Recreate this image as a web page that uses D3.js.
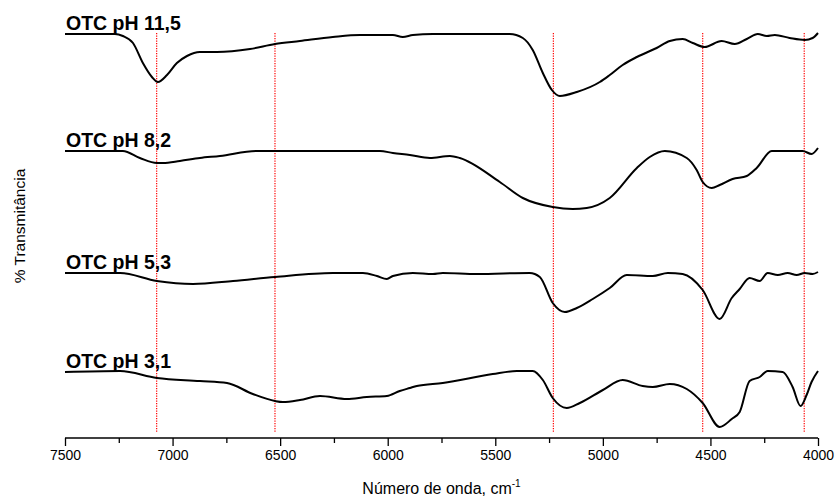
<!DOCTYPE html>
<html>
<head>
<meta charset="utf-8">
<script src="https://cdn.jsdelivr.net/npm/d3@7/dist/d3.min.js"></script>
<style>
  html, body { margin: 0; padding: 0; background: #fff; }
  svg { display: block; }
  text { font-family: "Liberation Sans", Arial, Helvetica, sans-serif; }
</style>
</head>
<body>
<svg id="chart" width="837" height="500"></svg>
<script>
// ---- data (wavenumber in cm-1, transmittance in arbitrary offset units) ----
const seriesNames = ["OTC pH 11,5", "OTC pH 8,2", "OTC pH 5,3", "OTC pH 3,1"];

const wnPH115 = [7500,7268,7231,7184,7138,7096,7068,7026,6980,6933,6873,6794,6640,6524,6408,6255,6129,5976,5930,5883,5790,5572,5433,5372,5326,5279,5237,5200,5121,5014,4968,4908,4842,4750,4689,4629,4582,4527,4448,4387,4331,4280,4238,4201,4132,4062,4025,4000];
const tPH115  = [404,404,402,395,375,361,356,363,375,382,386,386,389,394,397,401,403,403,401,403,404,404,404,400,388,365,348,342,346,356,363,373,381,390,397,399,395,391,397,394,399,404,402,403,400,398,400,405];

const wnPH82 = [7500,7231,7152,7073,7045,6966,6873,6780,6608,6036,5976,5897,5804,5711,5665,5479,5372,5233,5140,5075,4968,4842,4782,4712,4610,4564,4536,4494,4457,4397,4331,4285,4215,4071,4030,4000];
const tPH82  = [287,287,280,275,275,277,280,282,287,287,285,283,280,282,280,256,240,231,229,230,240,270,281,287,280,268,256,250,253,259,262,270,287,287,284,290];

const wnPH53 = [7500,7244,7073,6905,6719,6524,6255,6115,6050,6004,5976,5883,5790,5744,5586,5340,5293,5233,5177,5121,5047,4968,4889,4768,4698,4629,4536,4457,4401,4364,4318,4271,4234,4187,4141,4099,4062,4025,4000];
const tPH53  = [165,165,157,154,157,161,165,165,162,159,162,165,164,165,164,165,161,135,126,130,139,150,163,162,165,164,148,119,140,149,160,157,165,163,165,163,165,164,166];

const wnPH31 = [7500,7244,7073,6873,6747,6627,6524,6487,6408,6315,6190,6097,6004,5944,5897,5865,5744,5512,5400,5326,5279,5233,5168,5107,5000,4908,4815,4768,4689,4610,4536,4457,4401,4364,4318,4271,4234,4164,4118,4081,4053,4030,4000];
const tPH31  = [66,67,60,57,55,44,37,36,38,42,39,41,42,47,50,52,55,64,67,67,58,40,30,35,48,58,52,51,54,49,35,11,19,26,57,61,67,66,51,32,43,56,67];

const refLines = [7074, 6524, 5230, 4536, 4064];
const majorTicks = [7500, 7000, 6500, 6000, 5500, 5000, 4500, 4000];
const minorTicks = [7250, 6750, 6250, 5750, 5250, 4750, 4250];

const seriesX = [wnPH115, wnPH82, wnPH53, wnPH31];
const seriesY = [tPH115, tPH82, tPH53, tPH31];

// ---- scales ----
const svg = d3.select("#chart");
const x = d3.scaleLinear().domain([7500, 4000]).range([65, 818]);
const y = d3.scaleLinear().domain([0, 420]).range([438, 18]);

// reference lines (from value 5 to 405)
svg.append("g").selectAll("line").data(refLines).join("line")
  .attr("x1", d => x(d)).attr("x2", d => x(d))
  .attr("y1", y(405)).attr("y2", y(5))
  .attr("stroke", "#ff0000")
  .attr("stroke-width", 1.2)
  .attr("stroke-dasharray", "1.2,1.3");

// curves
const line = d3.line().x(d => x(d[0])).y(d => y(d[1])).curve(d3.curveMonotoneX);
seriesX.forEach((xs, i) => {
  const pts = xs.map((w, j) => [w, seriesY[i][j]]);
  svg.append("path").datum(pts)
    .attr("d", line)
    .attr("fill", "none")
    .attr("stroke", "#000")
    .attr("stroke-width", 2)
    .attr("stroke-linejoin", "round");
  svg.append("text")
    .attr("x", x(xs[0]) + 1)
    .attr("y", y(seriesY[i][0]) - 4.5)
    .attr("font-size", "19.5px")
    .attr("font-weight", "bold")
    .attr("fill", "#000")
    .text(seriesNames[i]);
});

// x axis
const axisY = y(0);
const gMajor = svg.append("g").attr("transform", `translate(0,${axisY})`)
  .call(d3.axisBottom(x).tickValues(majorTicks).tickSize(8).tickPadding(4).tickFormat(d3.format("d")));
gMajor.select(".domain").attr("stroke", "#000").attr("stroke-width", 1.3).attr("d", `M${x(7500)},0H${x(4000)}`);
gMajor.selectAll(".tick line").attr("stroke", "#000").attr("stroke-width", 1.3);
gMajor.selectAll(".tick text").attr("font-size", "14px").attr("fill", "#000")
  .attr("font-family", "'Liberation Sans', Arial, sans-serif");
const gMinor = svg.append("g").attr("transform", `translate(0,${axisY})`)
  .call(d3.axisBottom(x).tickValues(minorTicks).tickSize(5).tickFormat(""));
gMinor.select(".domain").remove();
gMinor.selectAll(".tick line").attr("stroke", "#000").attr("stroke-width", 1.3);

// axis titles
const xt = svg.append("text")
  .attr("x", (x(7500) + x(4000)) / 2).attr("y", 494)
  .attr("text-anchor", "middle").attr("font-size", "16px").attr("fill", "#000");
xt.append("tspan").text("Número de onda, cm");
xt.append("tspan").attr("font-size", "10px").attr("dy", "-7").text("-1");

svg.append("text")
  .attr("transform", "translate(25,226) rotate(-90)")
  .attr("text-anchor", "middle").attr("font-size", "15.5px").attr("fill", "#000")
  .text("% Transmitância");
</script>
</body>
</html>
